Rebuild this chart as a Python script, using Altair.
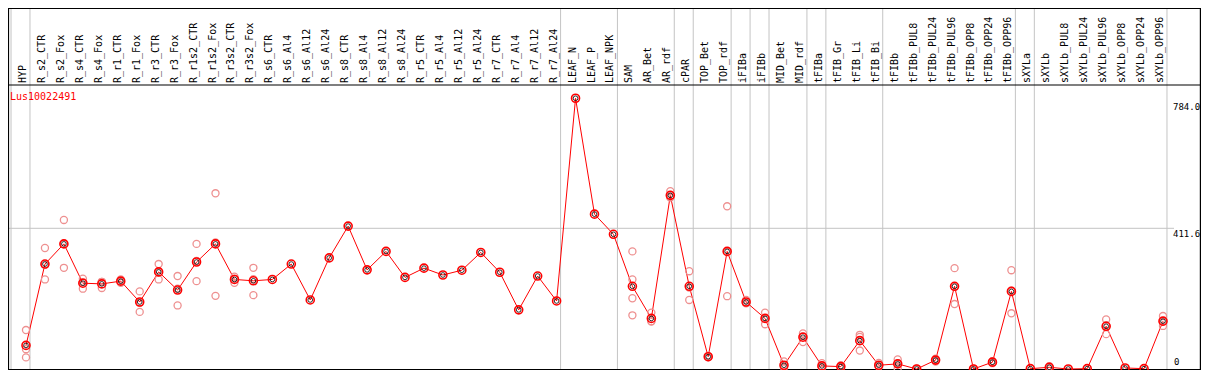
import altair as alt
import pandas as pd

title_text = "Lus10022491"

groups = [
    ["HYP"],
    ["R_s2_CTR", "R_s2_Fox", "R_s4_CTR", "R_s4_Fox", "R_r1_CTR", "R_r1_Fox",
     "R_r3_CTR", "R_r3_Fox", "R_r1s2_CTR", "R_r1s2_Fox", "R_r3s2_CTR", "R_r3s2_Fox",
     "R_s6_CTR", "R_s6_Al4", "R_s6_Al12", "R_s6_Al24", "R_s8_CTR", "R_s8_Al4",
     "R_s8_Al12", "R_s8_Al24", "R_r5_CTR", "R_r5_Al4", "R_r5_Al12", "R_r5_Al24",
     "R_r7_CTR", "R_r7_Al4", "R_r7_Al12", "R_r7_Al24"],
    ["LEAF_N", "LEAF_P", "LEAF_NPK"],
    ["SAM", "AR_Bet", "AR_rdf"],
    ["cPAR"],
    ["TOP_Bet", "TOP_rdf"],
    ["iFIBa"],
    ["iFIBb"],
    ["MID_Bet", "MID_rdf"],
    ["tFIBa"],
    ["tFIB_Gr", "tFIB_Li", "tFIB_Bi"],
    ["tFIBb", "tFIBb_PUL8", "tFIBb_PUL24", "tFIBb_PUL96", "tFIBb_OPP8",
     "tFIBb_OPP24", "tFIBb_OPP96"],
    ["sXYLa"],
    ["sXYLb", "sXYLb_PUL8", "sXYLb_PUL24", "sXYLb_PUL96", "sXYLb_OPP8",
     "sXYLb_OPP24", "sXYLb_OPP96"],
]

means = [69, 307, 366, 251, 249, 257, 196, 284, 231, 313, 366, 262, 258,
         262, 307, 202, 325, 418, 290, 344, 268, 295, 275, 289, 341, 283, 173, 272, 199,
         792, 453, 394,
         242, 148, 508,
         242,
         36, 344,
         196,
         148,
         11, 93,
         9,
         7, 83, 11,
         15, 0, 26, 242, 0, 20, 227,
         1,
         5, 0, 1, 125, 3, 1, 140]

replicates = {
    "HYP": [114, 58, 34],
    "R_s2_CTR": [354, 262, 305],
    "R_s2_Fox": [436, 296, 366],
    "R_s4_CTR": [264, 235, 254],
    "R_s4_Fox": [255, 237, 255],
    "R_r1_CTR": [257, 252, 262],
    "R_r1_Fox": [227, 167, 194],
    "R_r3_CTR": [307, 262, 283],
    "R_r3_Fox": [272, 186, 235],
    "R_r1s2_CTR": [366, 257, 316],
    "R_r1s2_Fox": [514, 214, 370],
    "R_r3s2_CTR": [270, 252, 264],
    "R_r3s2_Fox": [296, 216, 263],
    "SAM": [344, 262, 207, 157],
    "AR_Bet": [165, 140, 139],
    "AR_rdf": [520, 502, 502],
    "cPAR": [286, 202, 238],
    "TOP_Bet": [36, 34, 38],
    "TOP_rdf": [476, 213, 343],
    "iFIBa": [202, 192, 194],
    "iFIBb": [165, 131, 148],
    "MID_Bet": [22, 5, 6],
    "MID_rdf": [104, 79, 96],
    "tFIBa": [17, 5, 5],
    "tFIB_Gr": [11, 4, 6],
    "tFIB_Li": [100, 94, 54],
    "tFIB_Bi": [18, 7, 8],
    "tFIBb": [28, 2, 16],
    "tFIBb_PUL8": [0, 1, 0],
    "tFIBb_PUL24": [30, 22, 26],
    "tFIBb_PUL96": [295, 190, 241],
    "tFIBb_OPP8": [0, 0, 1],
    "tFIBb_OPP24": [23, 17, 20],
    "tFIBb_OPP96": [289, 163, 229],
    "sXYLb": [3, 8, 4],
    "sXYLb_PUL96": [145, 102, 128],
    "sXYLb_OPP96": [155, 126, 139],
}

axis_ticks = [784.0, 411.6]
axis_zero = [0]

# ---- build tables ----
categories = [c for g in groups for c in g]
idx_of = {c: i for i, c in enumerate(categories)}
main_df = pd.DataFrame({"cat": categories, "idx": list(range(len(categories))), "val": means})
rep_rows = [{"cat": c, "idx": idx_of[c], "val": v} for c, vs in replicates.items() for v in vs]
rep_df = pd.DataFrame(rep_rows)
ends = [-1]
n = 0
for g in groups:
    n += len(g)
    ends.append(n - 1)
sep_df = pd.DataFrame({"pos": [e + 0.21 for e in ends]})
tick_df = pd.DataFrame({"v": axis_ticks, "lab": [f"{t:.1f}" for t in axis_ticks]})
zero_df = pd.DataFrame({"v": axis_zero, "lab": [str(z) for z in axis_zero]})
one = pd.DataFrame({"a": [0]})

W, H = 1193, 362
FONT = "DejaVu Sans Mono"
xs = alt.Scale(domain=[0, 60], range=[18, 1155], zero=False, nice=False)
ys = alt.Scale(domain=[0, 784], range=[361, 93], zero=False, nice=False)

frame = alt.Chart(one).mark_rect(filled=False, stroke="black", strokeWidth=1.2).encode(
    x=alt.value(0.5), x2=alt.value(W - 0.6), y=alt.value(0.5), y2=alt.value(361.5))
header_line = alt.Chart(one).mark_rule(color="black", strokeWidth=1.2).encode(
    x=alt.value(0), x2=alt.value(W), y=alt.value(77))
seps = alt.Chart(sep_df).mark_rule(color="#c4c4c4", strokeWidth=1).encode(
    x=alt.X("pos:Q", scale=xs, axis=None), y=alt.value(1), y2=alt.value(361))
hgrid = alt.Chart(tick_df.iloc[1:]).mark_rule(color="#c4c4c4", strokeWidth=1).encode(
    y=alt.Y("v:Q", scale=ys, axis=None), x=alt.value(1), x2=alt.value(1166))
header = alt.Chart(main_df).mark_text(
    angle=270, align="left", baseline="alphabetic", font=FONT, fontSize=10, color="black"
).encode(x=alt.X("idx:Q", scale=xs, axis=None), y=alt.value(75), text="cat:N")
line = alt.Chart(main_df).mark_line(color="#ff0000", strokeWidth=1).encode(
    x=alt.X("idx:Q", scale=xs, axis=None), y=alt.Y("val:Q", scale=ys, axis=None))
reps = alt.Chart(rep_df).mark_point(shape="circle", filled=False, size=50,
                                    color="#ee9090", strokeWidth=1.3, opacity=1).encode(
    x=alt.X("idx:Q", scale=xs, axis=None), y=alt.Y("val:Q", scale=ys, axis=None))
mean_outer = alt.Chart(main_df).mark_point(shape="circle", filled=False, size=64,
                                           color="#ff0000", strokeWidth=1.6, opacity=1).encode(
    x=alt.X("idx:Q", scale=xs, axis=None), y=alt.Y("val:Q", scale=ys, axis=None))
mean_inner = alt.Chart(main_df).mark_point(shape="circle", filled=False, size=22,
                                           color="#000000", strokeWidth=0.8, opacity=1).encode(
    x=alt.X("idx:Q", scale=xs, axis=None), y=alt.Y("val:Q", scale=ys, axis=None))
title = alt.Chart(pd.DataFrame({"t": [title_text]})).mark_text(
    align="left", baseline="middle", font=FONT, fontSize=10, color="#ff0000"
).encode(x=alt.value(2), y=alt.value(89), text="t:N")
ylabels = alt.Chart(tick_df).mark_text(
    align="left", baseline="top", dy=2, font=FONT, fontSize=9, color="black"
).encode(y=alt.Y("v:Q", scale=ys, axis=None), x=alt.value(1165), text="lab:N")
zlabel = alt.Chart(zero_df).mark_text(
    align="left", baseline="alphabetic", dy=-4, font=FONT, fontSize=9, color="black"
).encode(y=alt.Y("v:Q", scale=ys, axis=None), x=alt.value(1166), text="lab:N")

chart = alt.layer(
    seps, hgrid, frame, header_line, header, line, reps, mean_outer, mean_inner,
    title, ylabels, zlabel
).properties(
    width=W, height=H, padding=0, autosize=alt.AutoSizeParams(type="none")
).configure_view(stroke=None)

chart.save("out.html", embed_options={"renderer": "svg", "actions": False})
